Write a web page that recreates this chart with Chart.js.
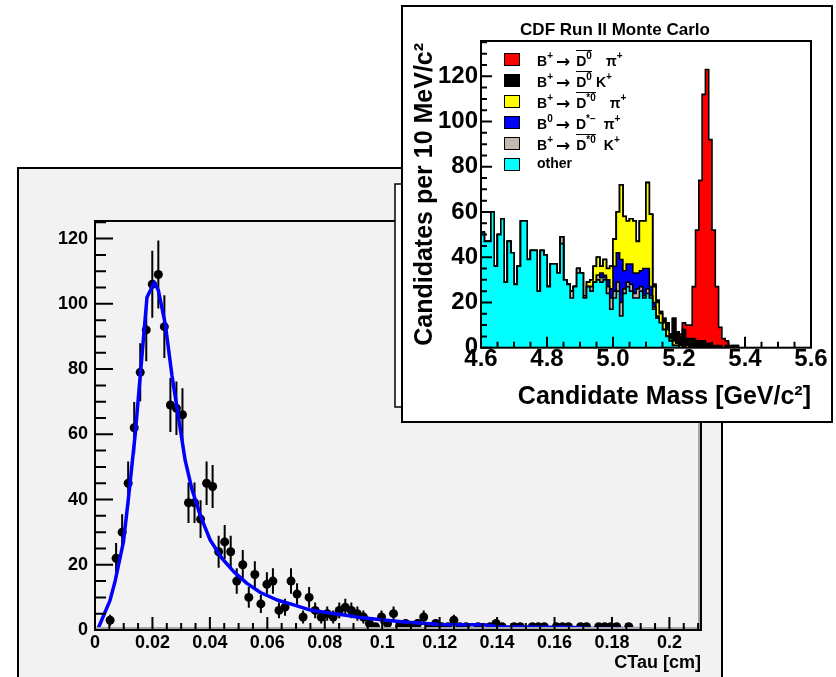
<!DOCTYPE html>
<html>
<head>
<meta charset="utf-8">
<title>CTau fit and CDF Run II Monte Carlo candidate mass</title>
<script src="https://cdn.jsdelivr.net/npm/chart.js@4.4.1/dist/chart.umd.min.js"></script>
<style>
html,body{margin:0;padding:0;background:#fff;width:836px;height:677px;overflow:hidden;}
#main{position:absolute;left:0;top:0;}
#inset{position:absolute;left:400px;top:4px;}
#legend{position:absolute;left:0;top:0;width:0;height:0;}
#legend .row{position:absolute;left:504px;width:300px;height:14px;}
#legend .sw{position:absolute;left:0;top:0;width:14px;height:11px;border:1.5px solid #000;}
#legend .tx{position:absolute;left:33px;top:-3px;line-height:24px;white-space:nowrap;font:bold 14px "Liberation Sans",Arial,sans-serif;color:#000;}
#legend sup{font-size:10px;position:relative;top:-7px;vertical-align:baseline;line-height:0;}
#legend .ob{display:inline-block;border-top:1.5px solid #000;padding-top:3px;line-height:14px;}
#legend .ar{font:bold 17px "DejaVu Sans",sans-serif;margin:0 6px 0 3px;position:relative;top:1px;}
#legend .g4{display:inline-block;width:4px;}
#legend .g8{display:inline-block;width:8px;}
#legend .g14{display:inline-block;width:14px;}
</style>
</head>
<body>
<canvas id="main" width="836" height="677"></canvas>
<canvas id="inset" width="434" height="420"></canvas>
<div id="legend"></div>
<script>
// ---------------- main plot: CTau distribution ----------------
const ctauX = [0.00525,0.00735,0.00945,0.01155,0.01365,0.01575,0.01785,0.01995,0.02205,0.02415,
  0.02625,0.02835,0.03045,0.03255,0.03465,0.03675,0.03885,0.04095,0.04305,0.04515,
  0.04725,0.04935,0.05145,0.05355,0.05565,0.05775,0.05985,0.06195,0.06405,0.06615,
  0.06825,0.07035,0.07245,0.07455,0.07665,0.07875,0.08085,0.08295,0.08505,0.08715,
  0.08925,0.09135,0.09345,0.09555,0.09765,0.09975,0.10185,0.10395,0.10605,
  0.10815,0.11025,0.11235,0.11445,0.11655,0.11865,0.12075,0.12285,0.12495,0.12705,0.12915,
  0.13335,0.13755,0.13965,0.14175,0.14595,0.14805,0.15225,0.15435,0.15645,0.16065,
  0.16275,0.16485,0.16905,0.17115,0.17535,0.17745,0.17955,0.18165,0.18585];
const ctauY = [3,22,30,45,62,79,92,106,109,93,
  69,68,66,39,39,34,45,44,24,27,
  24,15,20,10,17,8,14,15,6,7,
  15,11,4,10,6,4,5,4,6,7,
  6,5,4,2,1,4,2,5,1,
  2,1,2,4,1,2,1,1,3,1,1,
  1,1,2,1,1,1,1,1,1,1,
  1,1,1,1,1,1,1,1,1];
const ctauErr = [1.7,4.7,5.5,6.7,7.9,8.9,9.6,10.3,10.4,9.6,
  8.3,8.2,8.1,6.2,6.2,5.8,6.7,6.6,4.9,5.2,
  4.9,3.9,4.5,3.2,4.1,2.8,3.7,3.9,2.4,2.6,
  3.9,3.3,2.0,3.2,2.4,2.0,2.2,2.0,2.4,2.6,
  2.4,2.2,2.0,1.4,1.0,2.0,1.4,2.2,1.0,
  1.4,1.0,1.4,2.0,1.0,1.4,1.0,1.0,1.7,1.0,1.0,
  1,1,1.4,1,1,1,1,1,1,1,
  1,1,1,1,1,1,1,1,1];
const fitX = [0.0012,0.0052,0.0070,0.0099,0.0116,0.0140,0.0181,0.0207,0.0221,0.0245,
  0.0268,0.0291,0.0314,0.0338,0.0367,0.0401,0.0442,0.0483,0.0529,0.0576,
  0.0634,0.0692,0.0750,0.0809,0.0867,0.0925,0.1005,0.1088,0.1204,0.1354,
  0.1403,0.1668,0.1717,0.2007];
const fitY = [0.7,9,15,27,40,60,102,106.6,104,93.6,
  78,65,52,43,35,27.6,22,17.9,14.3,11.5,
  9.2,7.7,6.1,5.3,4.6,3.8,3.1,2.4,1.7,1.6,
  1.0,0.8,0.5,0.3];
const ctauTicks = [0,0.02,0.04,0.06,0.08,0.1,0.12,0.14,0.16,0.18,0.2];
const ctauTickLabels = ['0','0.02','0.04','0.06','0.08','0.1','0.12','0.14','0.16','0.18','0.2'];
const countTicks = [0,20,40,60,80,100,120];
const countTickLabels = ['0','20','40','60','80','100','120'];

// ---------------- inset: candidate mass, stacked components (10 MeV bins) ----------------
const massMin = 4.6, massMax = 5.6, massBinWidth = 0.01;
const massTicks = [4.6,4.8,5.0,5.2,5.4,5.6];
const massTickLabels = ['4.6','4.8','5.0','5.2','5.4','5.6'];
const candTicks = [0,20,40,60,80,100,120];
const candTickLabels = ['0','20','40','60','80','100','120'];

const other = [51,47,47,60,36,50,57,29,47,42, 28,36,56,56,39,43,43,25,43,41,
  27,37,37,33,46,30,28,22,27,33, 33,22,27,25,29,30,29,30,24,17,
  22,25,14,24,27,25,22,22,25,22, 24,22,17,13,11,8,5,3,1,1,
  0,0,0,0,0,0,0,0,0,0, 0,0,0,0,0,0,0,0,0,0,
  0,0,0,0,0,0,0,0,0,0, 0,0,0,0,0,0,0,0,0,0];
const dstarK = [0,0,0,0,0,0,0,0,0,0, 0,0,0,0,0,0,0,0,0,0,
  0,0,0,0,3,0,0,3,0,2, 0,0,0,2,0,2,2,1,3,5,
  3,4,6,2,2,3,2,4,2,1, 2,1,1,0,0,0,0,0,0,0,
  0,0,0,0,0,0,0,0,0,0, 0,0,0,0,0,0,0,0,0,0,
  0,0,0,0,0,0,0,0,0,0, 0,0,0,0,0,0,0,0,0,0];
const dstarPiB0 = [0,0,0,0,0,0,0,0,0,0, 0,0,0,0,0,0,0,0,0,0,
  0,0,0,0,0,0,0,0,0,0, 0,0,0,0,0,0,2,1,3,4,
  11,13,19,8,8,9,9,7,7,12, 9,4,2,1,0,0,0,0,0,0,
  0,0,0,0,0,0,0,0,0,0, 0,0,0,0,0,0,0,0,0,0,
  0,0,0,0,0,0,0,0,0,0, 0,0,0,0,0,0,0,0,0,0];
const dstarPi = [0,0,0,0,0,0,0,0,0,0, 0,0,0,0,0,0,0,0,0,0,
  0,0,0,0,0,0,0,0,0,0, 0,1,2,3,7,8,3,7,5,10,
  12,18,33,24,19,20,23,14,22,21, 38,32,7,6,4,3,3,1,2,1,
  1,0,1,0,0,0,0,0,0,0, 0,0,0,0,0,0,0,0,0,0,
  0,0,0,0,0,0,0,0,0,0, 0,0,0,0,0,0,0,0,0,0];
const d0K = [0,0,0,0,0,0,0,0,0,0, 0,0,0,0,0,0,0,0,0,0,
  0,0,0,0,0,0,0,0,0,0, 0,0,0,0,0,0,0,0,0,0,
  0,0,0,0,0,0,0,0,0,0, 0,0,1,1,1,2,3,2,10,5,
  4,8,3,4,4,3,3,3,2,2, 1,1,1,0,1,0,1,1,0,0,
  0,0,0,0,0,0,0,0,0,0, 0,0,0,0,0,0,0,0,0,0];
const d0Pi = [0,0,0,0,0,0,0,0,0,0, 0,0,0,0,0,0,0,0,0,0,
  0,0,0,0,0,0,0,0,0,0, 0,0,0,0,0,0,0,0,0,0,
  0,0,0,0,0,0,0,0,0,0, 0,0,0,0,0,0,0,0,0,0,
  1,3,6,6,23,49,71,109,121,90, 51,26,8,4,2,1,0,0,0,0,
  0,0,0,0,0,0,0,0,0,0, 0,0,0,0,0,0,0,0,0,0];

// legend order (top to bottom)
const seriesNames = ['B⁺ → D̄⁰ π⁺','B⁺ → D̄⁰ K⁺','B⁺ → D̄*⁰ π⁺','B⁰ → D*⁻ π⁺','B⁺ → D̄*⁰ K⁺','other'];
const seriesColors = ['#ff0000','#000000','#ffff00','#0000ff','#c1b9b0','#00ffff'];
const legendHtml = [
  'B<sup>+</sup><span class="ar">→</span><span class="ob">D<sup>0</sup></span><span class="g14"></span>π<sup>+</sup>',
  'B<sup>+</sup><span class="ar">→</span><span class="ob">D<sup>0</sup></span><span class="g4"></span>K<sup>+</sup>',
  'B<sup>+</sup><span class="ar">→</span><span class="ob">D<sup>*0</sup></span><span class="g14"></span>π<sup>+</sup>',
  'B<sup>0</sup><span class="ar">→</span>D<sup>*−</sup><span class="g8"></span>π<sup>+</sup>',
  'B<sup>+</sup><span class="ar">→</span><span class="ob">D<sup>*0</sup></span><span class="g8"></span>K<sup>+</sup>',
  'other'
];
// stacking order bottom -> top, with index into legend arrays
const stackSeries = [other, dstarK, dstarPiB0, dstarPi, d0K, d0Pi];
const stackLegendIndex = [5,4,3,2,1,0];

const FONT = '"Liberation Sans", Arial, Helvetica, sans-serif';
Chart.defaults.font.family = FONT;
Chart.defaults.color = '#000';

function fixedTicks(values) { return scale => { scale.ticks = values.map(v => ({value: v})); }; }

function drawRootTicks(chart, xs, ys) {
  const ctx = chart.ctx, a = chart.chartArea, X = chart.scales.x, Y = chart.scales.y;
  ctx.save();
  ctx.strokeStyle = '#000'; ctx.lineWidth = 2; ctx.beginPath();
  for (let n = Math.ceil(X.min / xs.step - 1e-6); n * xs.step <= X.max + 1e-9; n++) {
    const px = X.getPixelForValue(n * xs.step);
    const len = (n % xs.every === 0) ? xs.major : xs.minor;
    ctx.moveTo(px, a.bottom); ctx.lineTo(px, a.bottom - len);
  }
  for (let n = Math.ceil(Y.min / ys.step - 1e-6); n * ys.step <= Y.max + 1e-9; n++) {
    const py = Y.getPixelForValue(n * ys.step);
    const len = (n % ys.every === 0) ? ys.major : ys.minor;
    ctx.moveTo(a.left, py); ctx.lineTo(a.left + len, py);
  }
  ctx.stroke();
  ctx.restore();
}

function drawFrame(chart, shadow) {
  const ctx = chart.ctx, a = chart.chartArea;
  ctx.save();
  if (shadow) {
    ctx.strokeStyle = '#a8a8a8'; ctx.lineWidth = 2; ctx.beginPath();
    ctx.moveTo(a.left, a.bottom - 2); ctx.lineTo(a.right - 2, a.bottom - 2);
    ctx.lineTo(a.right - 2, a.top);
    ctx.stroke();
  }
  ctx.strokeStyle = '#000'; ctx.lineWidth = 2;
  ctx.strokeRect(a.left, a.top, a.right - a.left, a.bottom - a.top);
  ctx.restore();
}

const mainDecor = {
  id: 'mainDecor',
  beforeDraw(chart) {
    const ctx = chart.ctx;
    ctx.save();
    ctx.fillStyle = '#f2f2f2';
    ctx.fillRect(18, 168, 704, 520);
    ctx.strokeStyle = '#000'; ctx.lineWidth = 2;
    ctx.strokeRect(18, 168, 704, 520);
    ctx.restore();
  },
  beforeDatasetsDraw(chart) {
    const ctx = chart.ctx, a = chart.chartArea, X = chart.scales.x, Y = chart.scales.y;
    ctx.save();
    ctx.beginPath(); ctx.rect(a.left, a.top, a.right - a.left, a.bottom - a.top); ctx.clip();
    ctx.strokeStyle = '#000'; ctx.lineWidth = 2; ctx.beginPath();
    ctauX.forEach((v, i) => {
      const px = X.getPixelForValue(v);
      ctx.moveTo(px, Y.getPixelForValue(ctauY[i] - ctauErr[i]));
      ctx.lineTo(px, Y.getPixelForValue(ctauY[i] + ctauErr[i]));
    });
    ctx.stroke();
    ctx.restore();
  },
  afterDatasetsDraw(chart) {
    drawFrame(chart, true);
    drawRootTicks(chart, {step: 0.005, every: 4, major: 13, minor: 7}, {step: 5, every: 4, major: 18, minor: 11});
  },
  afterDraw(chart) {
    const ctx = chart.ctx;
    ctx.save();
    ctx.fillStyle = '#fff'; ctx.fillRect(395, 184, 435, 223);
    ctx.strokeStyle = '#000'; ctx.lineWidth = 1.5; ctx.strokeRect(395, 184, 435, 223);
    ctx.restore();
  }
};

const mainChart = new Chart(document.getElementById('main'), {
  type: 'scatter',
  data: {
    datasets: [
      {label: 'fit', data: fitX.map((x, i) => ({x, y: fitY[i]})), showLine: true,
       borderColor: '#0000ff', borderWidth: 3.5, pointRadius: 0, tension: 0, borderJoinStyle: 'round', fill: false},
      {label: 'CTau', data: ctauX.map((x, i) => ({x, y: ctauY[i]})), pointRadius: 4.5, pointHoverRadius: 4.5,
       backgroundColor: '#000', borderColor: '#000', borderWidth: 0}
    ]
  },
  options: {
    responsive: false, animation: false, devicePixelRatio: 1, events: [],
    layout: {padding: {left: 0, top: 221, right: 135, bottom: 0}},
    plugins: {legend: {display: false}, tooltip: {enabled: false}, title: {display: false}},
    scales: {
      x: {type: 'linear', min: 0, max: 0.211,
          grid: {display: false, drawTicks: false}, border: {display: false},
          afterBuildTicks: fixedTicks(ctauTicks),
          afterFit: s => { s.height = 47; },
          ticks: {callback: (v, i) => ctauTickLabels[i], font: {size: 18, weight: 'bold', lineHeight: 1},
                  padding: 4, maxRotation: 0, autoSkip: false, color: '#000'},
          title: {display: true, text: 'CTau [cm]', align: 'end', color: '#000',
                  font: {size: 18, weight: 'bold'}, padding: {top: 0, bottom: 3}}},
      y: {type: 'linear', min: 0, max: 125.4,
          grid: {display: false, drawTicks: false}, border: {display: false},
          afterBuildTicks: fixedTicks(countTicks),
          afterFit: s => { s.width = 95; },
          ticks: {callback: (v, i) => countTickLabels[i], font: {size: 18, weight: 'bold'},
                  padding: 7, autoSkip: false, color: '#000'}}
    }
  },
  plugins: [mainDecor]
});

// ---------------- inset chart ----------------
const massEdges = other.map((_, k) => massMin + k * massBinWidth);
let running = other.map(() => 0);
const cumulative = stackSeries.map(arr => { running = running.map((v, i) => v + arr[i]); return running.slice(); });
function histPoints(cum) {
  const pts = [{x: massMin, y: 0}];
  cum.forEach((v, k) => pts.push({x: massEdges[k], y: v}));
  pts.push({x: massMax, y: 0});
  return pts;
}

const insetDecor = {
  id: 'insetDecor',
  beforeDraw(chart) {
    const ctx = chart.ctx;
    ctx.save(); ctx.fillStyle = '#fff'; ctx.fillRect(2, 2, 430, 416); ctx.restore();
  },
  afterDatasetsDraw(chart) {
    drawFrame(chart, false);
    drawRootTicks(chart, {step: 0.05, every: 4, major: 11, minor: 6}, {step: 5, every: 4, major: 11, minor: 6});
  },
  afterDraw(chart) {
    const ctx = chart.ctx;
    ctx.save(); ctx.strokeStyle = '#000'; ctx.lineWidth = 2; ctx.strokeRect(2, 2, 430, 416); ctx.restore();
  }
};

const insetChart = new Chart(document.getElementById('inset'), {
  type: 'line',
  data: {
    datasets: cumulative.map((cum, j) => ({
      label: seriesNames[stackLegendIndex[j]],
      data: histPoints(cum),
      stepped: true,
      fill: 'origin',
      backgroundColor: seriesColors[stackLegendIndex[j]],
      borderColor: '#000',
      borderWidth: 1.6,
      borderJoinStyle: 'miter',
      pointRadius: 0
    }))
  },
  options: {
    responsive: false, animation: false, devicePixelRatio: 1, events: [],
    layout: {padding: {left: 19, right: 23, top: 0, bottom: 0}},
    plugins: {
      legend: {display: false}, tooltip: {enabled: false},
      title: {display: true, text: 'CDF Run II Monte Carlo', color: '#000',
              font: {size: 17, weight: 'bold'}, padding: {top: 16.6, bottom: 0}}
    },
    scales: {
      x: {type: 'linear', min: massMin, max: massMax,
          grid: {display: false, drawTicks: false}, border: {display: false},
          afterBuildTicks: fixedTicks(massTicks),
          afterFit: s => { s.height = 76.3; },
          ticks: {callback: (v, i) => massTickLabels[i], font: {size: 24, weight: 'bold', lineHeight: 1},
                  padding: 0, maxRotation: 0, autoSkip: false, color: '#000'},
          title: {display: true, text: 'Candidate Mass [GeV/c²]', align: 'end', color: '#000',
                  font: {size: 25, weight: 'bold'}, padding: {top: 0, bottom: 11.5}}},
      y: {type: 'linear', min: 0, max: 135.6,
          grid: {display: false, drawTicks: false}, border: {display: false},
          afterBuildTicks: fixedTicks(candTicks),
          afterFit: s => { s.width = 62; },
          ticks: {callback: (v, i) => candTickLabels[i], font: {size: 24, weight: 'bold'},
                  padding: 3, autoSkip: false, color: '#000'},
          title: {display: true, text: 'Candidates per 10 MeV/c²', color: '#000',
                  font: {size: 25, weight: 'bold', lineHeight: 0.5}, padding: 0}}
    }
  },
  plugins: [insetDecor]
});

// HTML legend built from the inset chart's datasets (top of stack first)
const legendEl = document.getElementById('legend');
insetChart.data.datasets.slice().reverse().forEach((ds, i) => {
  const row = document.createElement('div');
  row.className = 'row';
  row.style.top = (52.7 + i * 21.06) + 'px';
  row.innerHTML = '<div class="sw" style="background:' + ds.backgroundColor + '"></div><div class="tx">' + legendHtml[i] + '</div>';
  legendEl.appendChild(row);
});
</script>
</body>
</html>
